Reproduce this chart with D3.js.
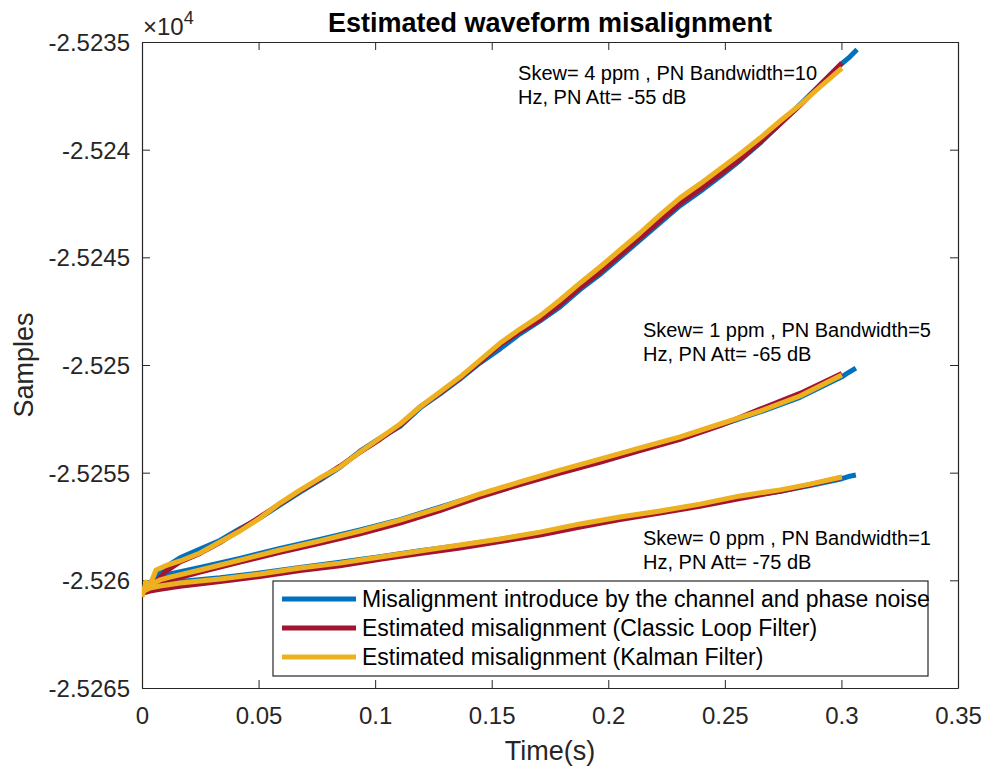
<!DOCTYPE html>
<html lang="en">
<head>
  <meta charset="UTF-8">
  <title>Estimated waveform misalignment</title>
  <script src="https://d3js.org/d3.v7.min.js"></script>
  <style>
    body {
      margin: 0;
      background: #fff;
    }
    svg {
      display: block;
      font-family: "Liberation Sans", Arial, sans-serif;
    }
  </style>
</head>
<body>
  <script>
    // axis ticks
    const xTicks = [0, 0.05, 0.1, 0.15, 0.2, 0.25, 0.3, 0.35];
    const yTicks = [-25265, -25260, -25255, -25250, -25245, -25240, -25235];

    const seriesNames = [
      "Misalignment introduce by the channel and phase noise",
      "Estimated misalignment (Classic Loop Filter)",
      "Estimated misalignment (Kalman Filter)"
    ];
    const seriesColors = ["#0072BD", "#A2142F", "#EDB120"];

    // Skew = 4 ppm
    const timeEst1 = [0, 0.0017, 0.0034, 0.0060, 0.0099, 0.0163, 0.0249, 0.0334, 0.0420, 0.0506,
      0.0592, 0.0678, 0.0763, 0.0849, 0.0935, 0.1021, 0.1107, 0.1192, 0.1278, 0.1364,
      0.1450, 0.1536, 0.1621, 0.1707, 0.1793, 0.1879, 0.1964, 0.2050, 0.2136, 0.2222,
      0.2308, 0.2393, 0.2479, 0.2565, 0.2651, 0.2737, 0.2822, 0.2908, 0.3002];
    const timeCh1 = [0, 0.0017, 0.0034, 0.0060, 0.0099, 0.0163, 0.0249, 0.0334, 0.0420, 0.0506,
      0.0592, 0.0678, 0.0763, 0.0849, 0.0935, 0.1021, 0.1107, 0.1192, 0.1278, 0.1364,
      0.1450, 0.1536, 0.1621, 0.1707, 0.1793, 0.1879, 0.1964, 0.2050, 0.2136, 0.2222,
      0.2308, 0.2393, 0.2479, 0.2565, 0.2651, 0.2737, 0.2822, 0.2908, 0.3002, 0.3030, 0.3067];
    const channel1 = [-25260.50, -25260.45, -25260.20, -25259.75, -25259.40, -25258.95, -25258.55, -25258.15, -25257.60, -25257.10,
      -25256.50, -25255.90, -25255.35, -25254.75, -25254.00, -25253.40, -25252.85, -25252.00, -25251.35, -25250.65,
      -25249.90, -25249.25, -25248.55, -25247.95, -25247.30, -25246.50, -25245.80, -25245.00, -25244.20, -25243.40,
      -25242.60, -25241.95, -25241.25, -25240.50, -25239.70, -25238.80, -25237.90, -25237.00, -25236.00, -25235.75, -25235.35];
    const loop1 = [-25260.54, -25260.50, -25260.36, -25260.08, -25259.61, -25259.15, -25258.75, -25258.25, -25257.65, -25257.05,
      -25256.45, -25255.85, -25255.30, -25254.70, -25254.05, -25253.45, -25252.80, -25251.95, -25251.30, -25250.60,
      -25249.85, -25249.05, -25248.45, -25247.90, -25247.20, -25246.40, -25245.70, -25244.90, -25244.10, -25243.30,
      -25242.50, -25241.85, -25241.15, -25240.45, -25239.65, -25238.80, -25237.95, -25237.00, -25235.97];
    const kalman1 = [-25260.77, -25260.08, -25260.22, -25259.52, -25259.33, -25259.10, -25258.73, -25258.22, -25257.71, -25257.11,
      -25256.41, -25255.81, -25255.25, -25254.74, -25254.04, -25253.39, -25252.74, -25251.95, -25251.25, -25250.56,
      -25249.77, -25248.98, -25248.33, -25247.72, -25246.98, -25246.19, -25245.45, -25244.66, -25243.87, -25243.03,
      -25242.24, -25241.59, -25240.90, -25240.20, -25239.46, -25238.67, -25237.92, -25237.09, -25236.21];

    // Skew = 1 ppm
    const timeEst2 = [0, 0.0034, 0.0077, 0.0120, 0.0249, 0.0420, 0.0592, 0.0763, 0.0935, 0.1107,
      0.1278, 0.1450, 0.1621, 0.1793, 0.1964, 0.2136, 0.2308, 0.2479, 0.2651, 0.2822, 0.3002];
    const timeCh2 = [0, 0.0034, 0.0077, 0.0120, 0.0249, 0.0420, 0.0592, 0.0763, 0.0935, 0.1107,
      0.1278, 0.1450, 0.1621, 0.1793, 0.1964, 0.2136, 0.2308, 0.2479, 0.2651, 0.2822, 0.3002, 0.3030, 0.3062];
    const channel2 = [-25260.50, -25260.10, -25259.85, -25259.70, -25259.40, -25258.98, -25258.52, -25258.10, -25257.66, -25257.18,
      -25256.60, -25256.02, -25255.47, -25254.95, -25254.44, -25253.92, -25253.40, -25252.80, -25252.18, -25251.50,
      -25250.55, -25250.35, -25250.14];
    const loop2 = [-25260.55, -25260.40, -25260.20, -25260.00, -25259.62, -25259.15, -25258.70, -25258.28, -25257.84, -25257.34,
      -25256.76, -25256.12, -25255.55, -25255.02, -25254.52, -25253.98, -25253.45, -25252.82, -25252.05, -25251.32, -25250.40];
    const kalman2 = [-25260.45, -25260.22, -25259.98, -25259.85, -25259.52, -25259.06, -25258.59, -25258.17, -25257.71, -25257.20,
      -25256.64, -25255.99, -25255.43, -25254.88, -25254.37, -25253.85, -25253.34, -25252.74, -25252.14, -25251.44, -25250.46];

    // Skew = 0 ppm
    const timeEst3 = [0, 0.0034, 0.0077, 0.0163, 0.0335, 0.0506, 0.0678, 0.0849, 0.1021, 0.1192,
      0.1364, 0.1536, 0.1707, 0.1879, 0.2050, 0.2222, 0.2393, 0.2565, 0.2737, 0.2865, 0.3002];
    const timeCh3 = [0, 0.0034, 0.0077, 0.0163, 0.0335, 0.0506, 0.0678, 0.0849, 0.1021, 0.1192,
      0.1364, 0.1536, 0.1707, 0.1879, 0.2050, 0.2222, 0.2393, 0.2565, 0.2737, 0.2865, 0.3002, 0.3030, 0.3062];
    const channel3 = [-25260.55, -25260.40, -25260.22, -25260.05, -25259.88, -25259.66, -25259.40, -25259.16, -25258.90, -25258.62,
      -25258.38, -25258.10, -25257.80, -25257.42, -25257.10, -25256.82, -25256.52, -25256.14, -25255.86, -25255.60,
      -25255.28, -25255.18, -25255.11];
    const loop3 = [-25260.60, -25260.50, -25260.42, -25260.28, -25260.05, -25259.82, -25259.55, -25259.32, -25259.02, -25258.76,
      -25258.50, -25258.20, -25257.90, -25257.52, -25257.18, -25256.88, -25256.56, -25256.20, -25255.86, -25255.56, -25255.22];
    const kalman3 = [-25260.54, -25260.36, -25260.26, -25260.12, -25259.94, -25259.71, -25259.43, -25259.20, -25258.92, -25258.64,
      -25258.36, -25258.08, -25257.76, -25257.38, -25257.06, -25256.78, -25256.46, -25256.08, -25255.80, -25255.53, -25255.20];

    // text labels placed in data coordinates (first line baseline)
    const notes = [
      { t: 0.1613, s: -25236.76, lines: ["Skew= 4 ppm , PN Bandwidth=10", "Hz, PN Att= -55 dB"] },
      { t: 0.2149, s: -25248.70, lines: ["Skew= 1 ppm , PN Bandwidth=5", "Hz, PN Att= -65 dB"] },
      { t: 0.2149, s: -25258.36, lines: ["Skew= 0 ppm , PN Bandwidth=1", "Hz, PN Att= -75 dB"] }
    ];

    const W = 985, H = 769;
    const margin = { top: 42, right: 27, bottom: 81, left: 142 };
    const width = W - margin.left - margin.right;
    const height = H - margin.top - margin.bottom;
    const axisColor = "#262626";

    const svg = d3.select("body").append("svg")
      .attr("width", W)
      .attr("height", H);

    const g = svg.append("g")
      .attr("transform", `translate(${margin.left},${margin.top})`);

    const x = d3.scaleLinear().domain([0, 0.35]).range([0, width]);
    const y = d3.scaleLinear().domain([-25265, -25235]).range([height, 0]);

    g.append("rect")
      .attr("width", width)
      .attr("height", height)
      .attr("fill", "#fff");

    svg.append("clipPath").attr("id", "clip")
      .append("rect")
      .attr("x", margin.left)
      .attr("y", margin.top)
      .attr("width", width)
      .attr("height", height);

    // series, drawn blue first, then loop filter, then kalman on top
    const zip = (ts, vs) => ts.map((t, i) => ({ t: t, v: vs[i] }));
    const series = [
      { data: zip(timeCh1, channel1), c: 0 },
      { data: zip(timeCh2, channel2), c: 0 },
      { data: zip(timeCh3, channel3), c: 0 },
      { data: zip(timeEst1, loop1), c: 1 },
      { data: zip(timeEst2, loop2), c: 1 },
      { data: zip(timeEst3, loop3), c: 1 },
      { data: zip(timeEst1, kalman1), c: 2 },
      { data: zip(timeEst2, kalman2), c: 2 },
      { data: zip(timeEst3, kalman3), c: 2 }
    ];

    const line = d3.line()
      .x(d => x(d.t))
      .y(d => y(d.v));

    const plot = svg.append("g")
      .attr("clip-path", "url(#clip)")
      .append("g")
      .attr("transform", `translate(${margin.left},${margin.top})`);

    plot.selectAll("path")
      .data(series)
      .enter()
      .append("path")
      .attr("d", d => line(d.data))
      .attr("fill", "none")
      .attr("stroke", d => seriesColors[d.c])
      .attr("stroke-width", 5)
      .attr("stroke-linejoin", "round");

    // axes, ticks inside on all four sides
    const fmtY = v => String(+(v / 1e4).toFixed(4));
    const fmtX = v => String(+v.toFixed(2));

    const styleAxis = sel => {
      sel.selectAll("path").attr("stroke", axisColor);
      sel.selectAll("line").attr("stroke", axisColor);
      sel.selectAll("text")
        .attr("fill", axisColor)
        .style("font-size", "24px")
        .style("font-family", "'Liberation Sans', Arial, sans-serif");
    };

    g.append("g")
      .attr("transform", `translate(0,${height})`)
      .call(d3.axisBottom(x).tickValues(xTicks).tickFormat(fmtX).tickSize(-8).tickSizeOuter(0).tickPadding(19))
      .call(styleAxis);

    g.append("g")
      .call(d3.axisTop(x).tickValues(xTicks).tickFormat("").tickSize(-8).tickSizeOuter(0))
      .call(styleAxis);

    g.append("g")
      .call(d3.axisLeft(y).tickValues(yTicks).tickFormat(fmtY).tickSize(-8).tickSizeOuter(0).tickPadding(12))
      .call(styleAxis)
      .selectAll("text").attr("dy", "0.36em");

    g.append("g")
      .attr("transform", `translate(${width},0)`)
      .call(d3.axisRight(y).tickValues(yTicks).tickFormat("").tickSize(-8).tickSizeOuter(0))
      .call(styleAxis);

    g.selectAll(".domain").attr("stroke-width", 1.2);

    // exponent
    const expo = g.append("text")
      .attr("x", 1)
      .attr("y", -7)
      .attr("fill", axisColor)
      .style("font-size", "24px");
    expo.append("tspan").text("\u00d710");
    expo.append("tspan")
      .attr("dy", -11)
      .style("font-size", "18px")
      .text("4");

    // titles
    svg.append("text")
      .attr("x", margin.left + width / 2)
      .attr("y", 32)
      .attr("text-anchor", "middle")
      .style("font-size", "27px")
      .style("font-weight", "bold")
      .attr("fill", "#000")
      .text("Estimated waveform misalignment");

    svg.append("text")
      .attr("x", margin.left + width / 2)
      .attr("y", 760)
      .attr("text-anchor", "middle")
      .style("font-size", "27px")
      .attr("fill", axisColor)
      .text("Time(s)");

    svg.append("text")
      .attr("transform", `translate(33,${margin.top + height / 2}) rotate(-90)`)
      .attr("text-anchor", "middle")
      .style("font-size", "27px")
      .attr("fill", axisColor)
      .text("Samples");

    // annotations
    const note = g.selectAll(".note")
      .data(notes)
      .enter()
      .append("text")
      .attr("class", "note")
      .attr("fill", "#000")
      .style("font-size", "20px");
    note.selectAll("tspan")
      .data(d => d.lines.map((l, i) => ({ l: l, i: i, d: d })))
      .enter()
      .append("tspan")
      .attr("x", d => x(d.d.t))
      .attr("y", d => y(d.d.s) + d.i * 24)
      .text(d => d.l);

    // legend
    const legend = svg.append("g")
      .attr("transform", "translate(273,581)");

    legend.append("rect")
      .attr("width", 655)
      .attr("height", 95)
      .attr("fill", "#fff")
      .attr("stroke", axisColor)
      .attr("stroke-width", 1.2);

    const item = legend.selectAll(".item")
      .data(seriesNames)
      .enter()
      .append("g")
      .attr("class", "item")
      .attr("transform", (d, i) => `translate(0,${18 + i * 29})`);

    item.append("line")
      .attr("x1", 9)
      .attr("x2", 83)
      .attr("stroke", (d, i) => seriesColors[i])
      .attr("stroke-width", 5);

    item.append("text")
      .attr("x", 89)
      .attr("dy", "0.36em")
      .attr("fill", "#000")
      .style("font-size", "23px")
      .text(d => d);
  </script>
</body>
</html>
